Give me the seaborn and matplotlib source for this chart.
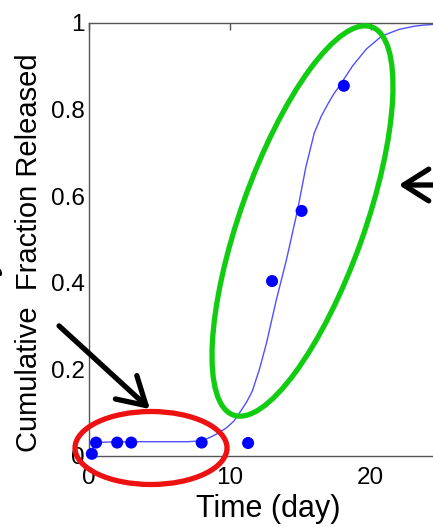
import numpy as np
import pandas as pd
import matplotlib
matplotlib.use('Agg')
import matplotlib.pyplot as plt
import seaborn as sns
from matplotlib.patches import Ellipse, FancyArrowPatch

# observed data (dots)
time_obs = [0.2, 0.5, 2.0, 3.0, 8.0, 11.3, 13.0, 15.1, 18.1]
frac_obs = [0.005, 0.031, 0.031, 0.031, 0.031, 0.030, 0.404, 0.566, 0.855]

# fitted curve
time_fit = [0.1, 0.4, 1, 3, 5, 7, 8, 8.6, 9.2, 9.8, 10.3, 10.7, 11.2, 11.6, 12.1,
            12.6, 13.3, 14.0, 14.8, 15.4, 16.0, 16.5, 17.0, 17.4, 17.8, 18.7,
            19.7, 20.8, 22.0, 23.0, 23.7, 25.0]
frac_fit = [0.005, 0.030, 0.032, 0.033, 0.033, 0.033, 0.035, 0.043, 0.053, 0.066,
            0.081, 0.10, 0.125, 0.15, 0.20, 0.26, 0.36, 0.45, 0.566, 0.667, 0.746,
            0.785, 0.815, 0.837, 0.855, 0.90, 0.94, 0.97, 0.985, 0.992, 0.995, 0.998]

x_ticks = [0, 10, 20]
y_ticks = [0, 0.2, 0.4, 0.6, 0.8, 1.0]
y_ticklabels = ['0', '0.2', '0.4', '0.6', '0.8', '1']

sns.set_style('white')
plt.rcParams['font.family'] = ['Liberation Sans', 'DejaVu Sans']
plt.rcParams['text.color'] = 'black'
plt.rcParams['axes.labelcolor'] = 'black'
plt.rcParams['xtick.labelcolor'] = 'black'
plt.rcParams['ytick.labelcolor'] = 'black'

W, H = 433, 527
fig = plt.figure(figsize=(W / 100, H / 100), dpi=100)
ax = fig.add_axes([89 / W, (H - 456) / H, 352 / W, 433 / H])

df_fit = pd.DataFrame({'t': time_fit, 'f': frac_fit})
df_obs = pd.DataFrame({'t': time_obs, 'f': frac_obs})
sns.lineplot(data=df_fit, x='t', y='f', ax=ax, color='#5050ff', lw=1.0,
             sort=False, estimator=None)
sns.scatterplot(data=df_obs, x='t', y='f', ax=ax, color='#0000ff', s=75,
                edgecolor='none', clip_on=False, zorder=3)

ax.set_xlim(0, 25)
ax.set_ylim(0, 1)
ax.set_xticks(x_ticks)
ax.set_xticklabels([str(v) for v in x_ticks])
ax.set_yticks(y_ticks)
ax.set_yticklabels(y_ticklabels)
ax.tick_params(direction='in', length=5, width=1, color='#555555',
               labelcolor='black', top=True, right=True, labelsize=17.5)
ax.tick_params(axis='x', pad=8)
ax.tick_params(axis='y', pad=3)
for sp in ax.spines.values():
    sp.set_color('#555555')
    sp.set_linewidth(1.0)

ax.set_xlabel('Time (day)', fontsize=22, color='black')
ax.set_ylabel('Cumulative  Fraction Released', fontsize=21, color='black')
ax.xaxis.set_label_coords(0.51, -0.088)
ax.yaxis.set_label_coords(-0.131, 0.469)

# annotations in figure inches
def px(x, y):
    return (x / 100, (H - y) / 100)

tr = fig.dpi_scale_trans
green = Ellipse(px(302.5, 221), 1.24, 4.12, angle=-19.6, transform=tr,
                fill=False, edgecolor='#11cc11', lw=3.8)
red = Ellipse(px(151, 448), 1.52, 0.73, angle=0, transform=tr,
              fill=False, edgecolor='#ee1111', lw=3.8)
fig.add_artist(green)
fig.add_artist(red)

arr1 = FancyArrowPatch(px(57, 324), px(152, 411), transform=tr,
                       arrowstyle='->,head_length=0.65,head_width=0.38',
                       mutation_scale=30, lw=3.8, color='black')
arr2 = FancyArrowPatch(px(460, 185), px(396, 185), transform=tr,
                       arrowstyle='->,head_length=0.6,head_width=0.38',
                       mutation_scale=30, lw=3.8, color='black')
arr3 = FancyArrowPatch(px(-20, 258), px(5, 278), transform=tr,
                       arrowstyle='->,head_length=0.4,head_width=0.3',
                       mutation_scale=30, lw=3.5, color='black')
for a in (arr1, arr2, arr3):
    fig.add_artist(a)

fig.savefig('out.png', dpi=100)
